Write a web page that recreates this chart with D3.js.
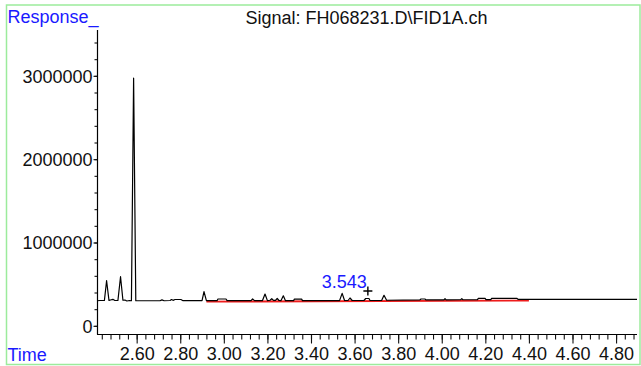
<!DOCTYPE html>
<html>
<head>
<meta charset="utf-8">
<script src="https://cdn.jsdelivr.net/npm/d3@7"></script>
<style>
  html, body { margin: 0; padding: 0; background: #fff; }
  svg { display: block; font-family: Arial, "Liberation Sans", sans-serif; }
</style>
</head>
<body>
<svg id="chart" width="641" height="366"></svg>
<script>
// FID signal trace: retention time (min) and detector response
const traceTimes = [
  2.418, 2.432, 2.445, 2.452, 2.462, 2.473, 2.480, 2.491, 2.500,
  2.514, 2.526, 2.537, 2.546, 2.555, 2.567,
  2.576, 2.586, 2.596, 2.606,
  2.707, 2.716, 2.726, 2.753, 2.760, 2.767, 2.776, 2.803, 2.813,
  2.891, 2.900, 2.909, 2.920,
  2.969, 2.973, 3.010, 3.015,
  3.125, 3.132, 3.141,
  3.177, 3.189, 3.200,
  3.212, 3.220, 3.228, 3.237, 3.245, 3.253,
  3.262, 3.273, 3.283,
  3.320, 3.324, 3.357, 3.361,
  3.531, 3.543, 3.554,
  3.570, 3.579, 3.589,
  3.643, 3.651, 3.666, 3.671,
  3.724, 3.735, 3.747,
  3.900, 3.905, 3.923, 3.927,
  4.010, 4.015, 4.020,
  4.087, 4.092, 4.097,
  4.164, 4.168, 4.199, 4.203,
  4.225, 4.229, 4.344, 4.350,
  4.896
];
const traceResponses = [
  301000, 304000, 304000, 304000, 541600, 304000, 310000, 318000, 304000,
  304000, 589600, 307000, 310000, 298000, 304000,
  301000, 2972000, 301000, 301000,
  301000, 312000, 301000, 304000, 316000, 306000, 316000, 316000, 302000,
  302000, 302000, 409500, 302000,
  302000, 322000, 322000, 302000,
  302000, 322000, 302000,
  302000, 382000, 302000,
  307000, 325000, 306000, 305000, 328000, 304000,
  302000, 360000, 302000,
  302000, 320000, 320000, 302000,
  302000, 390000, 304000,
  304000, 334000, 304000,
  304000, 328000, 328000, 304000,
  304000, 366000, 307000,
  312000, 322000, 322000, 312000,
  312000, 327000, 312000,
  313000, 326000, 313000,
  314000, 330000, 330000, 315000,
  315000, 330000, 330000, 318000,
  318000
];

// Integration baseline drawn under the peaks
const baselineTimes = [2.920, 4.400];
const baselineResponses = [290000, 303000];

// Labelled peak and cursor position
const peakLabelTime = 3.543;
const peakLabelResponse = 390000;
const cursorTime = 3.661;
const cursorResponse = 418000;

// Axis ticks
const majorTimeTicks = [2.60, 2.80, 3.00, 3.20, 3.40, 3.60, 3.80, 4.00, 4.20, 4.40, 4.60, 4.80];
const minorTimeTicks = d3.range(2.44, 4.89, 0.04);
const majorResponseTicks = [0, 1000000, 2000000, 3000000];
const minorResponseTicks = d3.range(0, 3400001, 200000);

const titleText = "Signal: FH068231.D\\FID1A.ch";

const svg = d3.select("#chart");

const x = d3.scaleLinear().domain([2.418, 4.896]).range([97, 637]);
const y = d3.scaleLinear().domain([-98000, 3550000]).range([334, 30]);

// frame
svg.append("rect")
  .attr("x", 6.5).attr("y", 5)
  .attr("width", 633.5).attr("height", 359.5)
  .attr("fill", "none")
  .attr("stroke", "#9ceb9c")
  .attr("stroke-width", 1.5);

// title and axis captions
svg.append("text")
  .attr("x", 366.5).attr("y", 23.5)
  .attr("text-anchor", "middle")
  .attr("font-size", 18)
  .attr("fill", "#111")
  .text(titleText);

svg.append("text")
  .attr("x", 7.5).attr("y", 22.5)
  .attr("font-size", 18)
  .attr("fill", "#1a1aff")
  .text("Response_");

svg.append("text")
  .attr("x", 7.5).attr("y", 360.5)
  .attr("font-size", 18)
  .attr("fill", "#1a1aff")
  .text("Time");

// y axis
const gy = svg.append("g").attr("transform", "translate(97.5,0)");
gy.call(d3.axisLeft(y).tickValues(minorResponseTicks).tickSize(3).tickFormat(""));
gy.call(g => {
  g.select(".domain").remove();
});
const gyMajor = svg.append("g").attr("transform", "translate(97.5,0)");
gyMajor.call(d3.axisLeft(y).tickValues(majorResponseTicks).tickSize(4).tickPadding(1)
  .tickFormat(d3.format("d")));
gyMajor.select(".domain").remove();
gyMajor.selectAll("text").attr("font-size", 18).attr("fill", "#111")
  .attr("font-family", "Arial, 'Liberation Sans', sans-serif").attr("dy", "0.36em");
svg.selectAll("g line").attr("stroke", "#111");

svg.append("line")
  .attr("x1", 97.5).attr("x2", 97.5)
  .attr("y1", y.range()[1]).attr("y2", 334.5)
  .attr("stroke", "#000").attr("stroke-width", 1.2);

// x axis
const gx = svg.append("g").attr("transform", "translate(0,334.5)");
gx.call(d3.axisBottom(x).tickValues(minorTimeTicks).tickSize(5).tickFormat(""));
gx.select(".domain").remove();
const gxMajor = svg.append("g").attr("transform", "translate(0,334.5)");
gxMajor.call(d3.axisBottom(x).tickValues(majorTimeTicks).tickSize(9).tickPadding(4)
  .tickFormat(d3.format(".2f")));
gxMajor.select(".domain").remove();
gxMajor.selectAll("text").attr("font-size", 18).attr("fill", "#111")
  .attr("font-family", "Arial, 'Liberation Sans', sans-serif");
svg.selectAll("g line").attr("stroke", "#111").attr("stroke-width", 1.1);

svg.append("line")
  .attr("x1", 97).attr("x2", 637)
  .attr("y1", 334.5).attr("y2", 334.5)
  .attr("stroke", "#000").attr("stroke-width", 1.2);

// integration baseline
const baseline = baselineTimes.map((t, i) => [t, baselineResponses[i]]);
svg.append("path")
  .datum(baseline)
  .attr("d", d3.line().x(d => x(d[0])).y(d => y(d[1])))
  .attr("fill", "none")
  .attr("stroke", "#ee1c1c")
  .attr("stroke-width", 1.8);

// signal trace
const trace = traceTimes.map((t, i) => [t, traceResponses[i]]);
svg.append("path")
  .datum(trace)
  .attr("d", d3.line().x(d => x(d[0])).y(d => y(d[1])))
  .attr("fill", "none")
  .attr("stroke", "#000")
  .attr("stroke-width", 1.2)
  .attr("stroke-linejoin", "round");

// peak label
svg.append("text")
  .attr("x", x(peakLabelTime) + 2)
  .attr("y", y(peakLabelResponse) - 5)
  .attr("text-anchor", "middle")
  .attr("font-size", 18)
  .attr("fill", "#1a1aff")
  .text(peakLabelTime.toFixed(3));

// cursor cross
const cx = x(cursorTime), cy = y(cursorResponse);
svg.append("path")
  .attr("d", `M${cx - 4.5},${cy}H${cx + 4.5}M${cx},${cy - 4.5}V${cy + 4.5}`)
  .attr("stroke", "#000")
  .attr("stroke-width", 1.4);
</script>
</body>
</html>
